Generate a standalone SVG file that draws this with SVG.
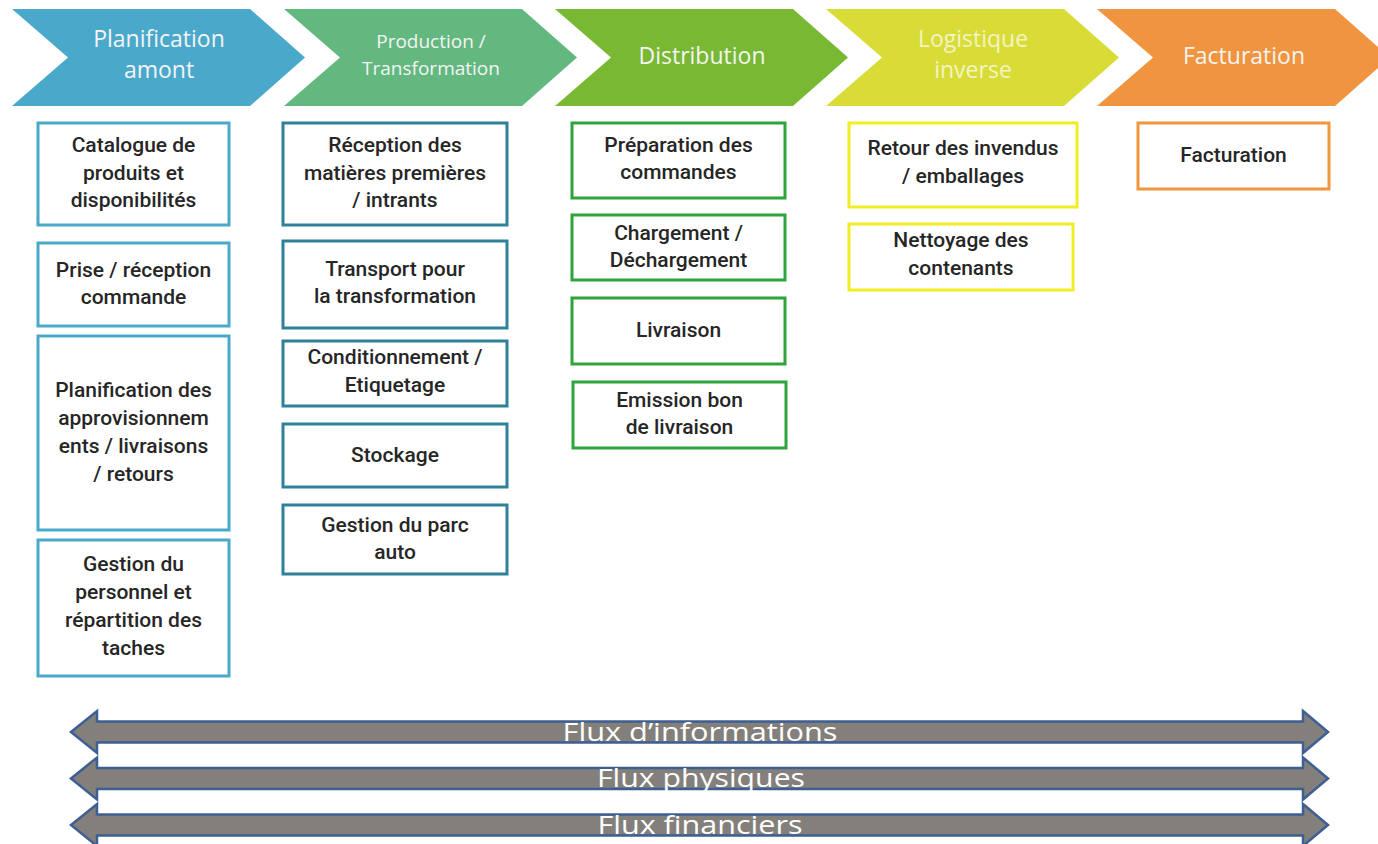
<svg xmlns="http://www.w3.org/2000/svg" width="1378" height="844" viewBox="0 0 1378 844">
<style>
.hdr{font-family:"Open Sans","Liberation Sans",sans-serif;font-size:23px;fill:#f4f4f4;text-anchor:middle}
.hdr-s{font-size:19px}
.pale{fill:#f3f4c4}
.box{fill:#ffffff;stroke-width:3}
.c1{stroke:#4aa8c8}
.c2{stroke:#2f8099}
.c3{stroke:#2ea43c}
.c4{stroke:#f0ee22}
.c5{stroke:#f0963c}
.t{font-family:Roboto,"Liberation Sans",sans-serif;font-weight:500;font-size:21px;fill:#262626;text-anchor:middle}
.arrow{fill:#837f7b;stroke:#3e5f93;stroke-width:2.5;stroke-linejoin:miter}
.flux{font-family:"Open Sans","Liberation Sans",sans-serif;font-size:26px;fill:#ffffff;text-anchor:middle}
</style>
<rect width="1378" height="844" fill="#ffffff"/>

<g id="header-planification">
<path d="M12,9 L250,9 L305,57.5 L250,106 L12,106 L68,57.5 Z" fill="#4aa9cb"/>
<text class="hdr" x="159" y="47">Planification</text>
<text class="hdr" x="159" y="78">amont</text>
</g>
<g id="header-production">
<path d="M284,9 L522,9 L577,57.5 L522,106 L284,106 L340,57.5 Z" fill="#63b87f"/>
<text class="hdr hdr-s" x="431" y="48">Production /</text>
<text class="hdr hdr-s" x="431" y="75">Transformation</text>
</g>
<g id="header-distribution">
<path d="M555,9 L793,9 L848,57.5 L793,106 L555,106 L611,57.5 Z" fill="#78b832"/>
<text class="hdr" x="702" y="64">Distribution</text>
</g>
<g id="header-logistique">
<path d="M826,9 L1064,9 L1119,57.5 L1064,106 L826,106 L882,57.5 Z" fill="#d9dc37"/>
<text class="hdr pale" x="973" y="47">Logistique</text>
<text class="hdr pale" x="973" y="78">inverse</text>
</g>
<g id="header-facturation">
<path d="M1097,9 L1335,9 L1390,57.5 L1335,106 L1097,106 L1153,57.5 Z" fill="#f1943f"/>
<text class="hdr" x="1244" y="64">Facturation</text>
</g>

<g id="box-catalogue">
<rect class="box c1" x="38" y="123" width="191" height="102"/>
<text class="t" x="133.5" y="152">Catalogue de</text>
<text class="t" x="133.5" y="179.5">produits et</text>
<text class="t" x="133.5" y="207">disponibilités</text>
</g>
<g id="box-prise">
<rect class="box c1" x="38" y="243" width="191" height="83"/>
<text class="t" x="133.5" y="277">Prise / réception</text>
<text class="t" x="133.5" y="304">commande</text>
</g>
<g id="box-planif-appro">
<rect class="box c1" x="38" y="336" width="191" height="194"/>
<text class="t" x="133.5" y="397">Planification des</text>
<text class="t" x="133.5" y="425">approvisionnem</text>
<text class="t" x="133.5" y="453">ents / livraisons</text>
<text class="t" x="133.5" y="481">/ retours</text>
</g>
<g id="box-gestion-personnel">
<rect class="box c1" x="38" y="540" width="191" height="136"/>
<text class="t" x="133.5" y="571">Gestion du</text>
<text class="t" x="133.5" y="599">personnel et</text>
<text class="t" x="133.5" y="627">répartition des</text>
<text class="t" x="133.5" y="655">taches</text>
</g>

<g id="box-reception">
<rect class="box c2" x="283" y="123" width="224" height="102"/>
<text class="t" x="395" y="152">Réception des</text>
<text class="t" x="395" y="179.5">matières premières</text>
<text class="t" x="395" y="207">/ intrants</text>
</g>
<g id="box-transport">
<rect class="box c2" x="283" y="241" width="224" height="87"/>
<text class="t" x="395" y="276">Transport pour</text>
<text class="t" x="395" y="303">la transformation</text>
</g>
<g id="box-conditionnement">
<rect class="box c2" x="283" y="341" width="224" height="65"/>
<text class="t" x="395" y="364">Conditionnement /</text>
<text class="t" x="395" y="392">Etiquetage</text>
</g>
<g id="box-stockage">
<rect class="box c2" x="283" y="424" width="224" height="63"/>
<text class="t" x="395" y="462">Stockage</text>
</g>
<g id="box-parc-auto">
<rect class="box c2" x="283" y="505" width="224" height="69"/>
<text class="t" x="395" y="532">Gestion du parc</text>
<text class="t" x="395" y="559">auto</text>
</g>

<g id="box-preparation">
<rect class="box c3" x="572" y="123" width="213" height="75"/>
<text class="t" x="678.5" y="152">Préparation des</text>
<text class="t" x="678.5" y="179">commandes</text>
</g>
<g id="box-chargement">
<rect class="box c3" x="572" y="215" width="213" height="65"/>
<text class="t" x="678.5" y="240">Chargement /</text>
<text class="t" x="678.5" y="267">Déchargement</text>
</g>
<g id="box-livraison">
<rect class="box c3" x="572" y="298" width="213" height="66"/>
<text class="t" x="678.5" y="337">Livraison</text>
</g>
<g id="box-emission">
<rect class="box c3" x="573" y="382" width="213" height="66"/>
<text class="t" x="679.5" y="407">Emission bon</text>
<text class="t" x="679.5" y="434">de livraison</text>
</g>

<g id="box-retour">
<rect class="box c4" x="849" y="123" width="228" height="84"/>
<text class="t" x="963" y="155">Retour des invendus</text>
<text class="t" x="963" y="183">/ emballages</text>
</g>
<g id="box-nettoyage">
<rect class="box c4" x="849" y="224" width="224" height="66"/>
<text class="t" x="961" y="247">Nettoyage des</text>
<text class="t" x="961" y="275">contenants</text>
</g>

<g id="box-facturation">
<rect class="box c5" x="1138" y="123" width="191" height="66"/>
<text class="t" x="1233.5" y="162">Facturation</text>
</g>

<g id="connectors">
<path class="arrow" d="M71,732 L97,711 L97,721.5 L1303,721.5 L1303,711 L1328,732 L1303,753 L1303,742.5 L97,742.5 L97,753 Z"/>
<path class="arrow" d="M71,778.5 L97,757.5 L97,768 L1303,768 L1303,757.5 L1328,778.5 L1303,799.5 L1303,789 L97,789 L97,799.5 Z"/>
<path class="arrow" d="M71,825 L97,804 L97,814.5 L1303,814.5 L1303,804 L1328,825 L1303,846 L1303,835.5 L97,835.5 L97,846 Z"/>
<text class="flux" x="700" y="741" textLength="275" lengthAdjust="spacingAndGlyphs">Flux d’informations</text>
<text class="flux" x="701" y="787" textLength="208" lengthAdjust="spacingAndGlyphs">Flux physiques</text>
<text class="flux" x="700" y="834" textLength="205" lengthAdjust="spacingAndGlyphs">Flux financiers</text>
</g>
</svg>
